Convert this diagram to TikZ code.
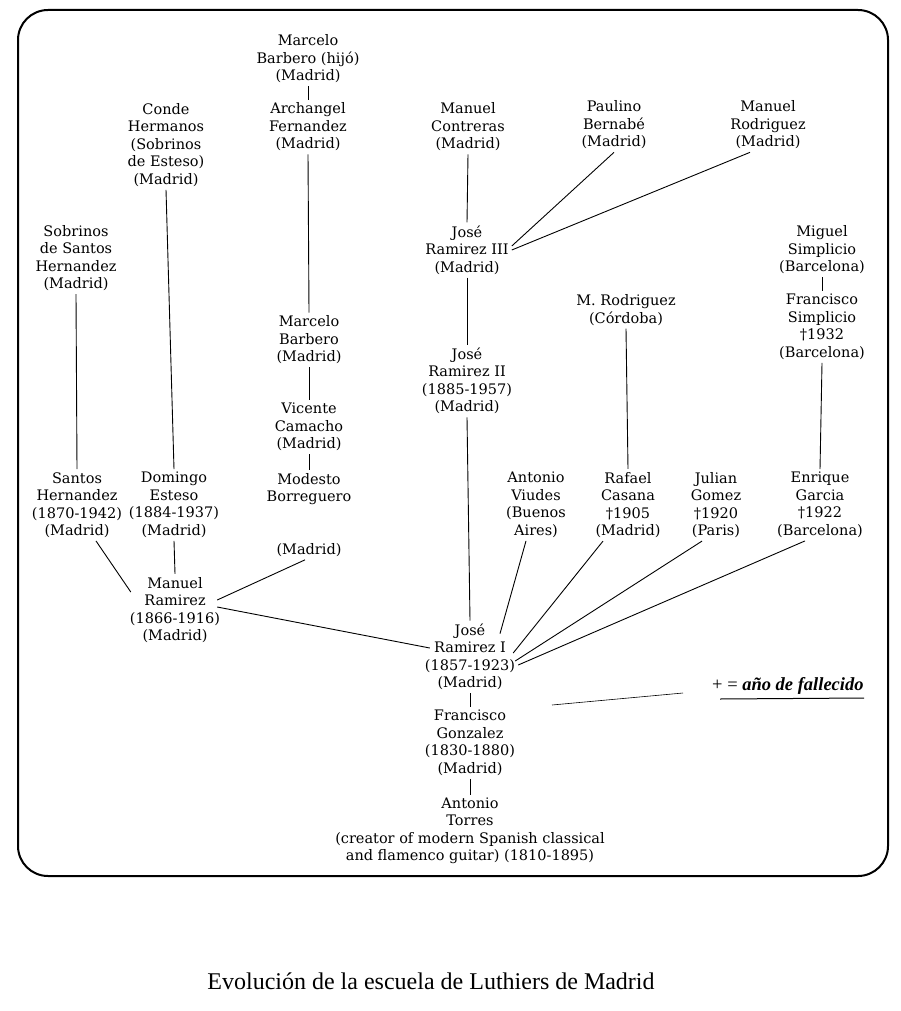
\documentclass[tikz,border=0pt]{standalone}
\usepackage{fontspec}
\setmainfont{DejaVu Serif}
\newfontfamily\capfont{Liberation Serif}
\begin{document}
\begin{tikzpicture}[x=1pt,y=-1pt,
  lbl/.style={align=center,inner sep=3pt,font=\fontsize{14.5}{17.5}\selectfont},
  link/.style={line width=0.9pt},
  frame/.style={line width=2pt,rounded corners=30pt}]
\useasboundingbox (0,0) rectangle (900,1011);
\draw[frame] (18,10) rectangle (888,876);
% nodes
\node[lbl] (bbh) at (308,59) {Marcelo\\Barbero (hijó)\\(Madrid)};
\node[lbl] (arch) at (308,127) {Archangel\\Fernandez\\(Madrid)};
\node[lbl] (conde) at (166,145) {Conde\\Hermanos\\(Sobrinos\\de Esteso)\\(Madrid)};
\node[lbl] (sobsh) at (76,258) {Sobrinos\\de Santos\\Hernandez\\(Madrid)};
\node[lbl] (contr) at (468,127) {Manuel\\Contreras\\(Madrid)};
\node[lbl] (bern) at (614,125) {Paulino\\Bernabé\\(Madrid)};
\node[lbl] (mrod) at (768,125) {Manuel\\Rodriguez\\(Madrid)};
\node[lbl] (jr3) at (467,250) {José\\Ramirez III\\(Madrid)};
\node[lbl] (msimp) at (822,250) {Miguel\\Simplicio\\(Barcelona)};
\node[lbl] (fsimp) at (822,327) {Francisco\\Simplicio\\†1932\\(Barcelona)};
\node[lbl] (mrodc) at (626,310) {M. Rodriguez\\(Córdoba)};
\node[lbl] (jr2) at (467,381) {José\\Ramirez II\\(1885-1957)\\(Madrid)};
\node[lbl] (mbarb) at (309,340) {Marcelo\\Barbero\\(Madrid)};
\node[lbl] (vcam) at (309,427) {Vicente\\Camacho\\(Madrid)};
\node[lbl] (modb) at (309,489) {Modesto\\Borreguero};
\node[lbl] (madr) at (309,550) {(Madrid)};
\node[lbl] (santos) at (77,505) {Santos\\Hernandez\\(1870-1942)\\(Madrid)};
\node[lbl] (doming) at (174,505) {Domingo\\Esteso\\(1884-1937)\\(Madrid)};
\node[lbl] (mram) at (175,610) {Manuel\\Ramirez\\(1866-1916)\\(Madrid)};
\node[lbl] (viudes) at (536,505) {Antonio\\Viudes\\(Buenos\\Aires)};
\node[lbl] (casana) at (628,505) {Rafael\\Casana\\†1905\\(Madrid)};
\node[lbl] (gomez) at (716,505) {Julian\\Gomez\\†1920\\(Paris)};
\node[lbl] (garcia) at (820,505) {Enrique\\Garcia\\†1922\\(Barcelona)};
\node[lbl] (jr1) at (470,657) {José\\Ramirez I\\(1857-1923)\\(Madrid)};
\node[lbl] (fgonz) at (470,743) {Francisco\\Gonzalez\\(1830-1880)\\(Madrid)};
\node[lbl] (torres) at (470,831) {Antonio\\Torres\\(creator of modern Spanish classical\\and flamenco guitar) (1810-1895)};
\node[anchor=west,inner sep=0pt,font=\capfont\fontsize{18.5}{20}\selectfont] (legend) at (712,686) {+ = \textbf{\textit{año de fallecido}}};
\node[inner sep=0pt,font=\capfont\fontsize{24}{26}\selectfont] (caption) at (431,981) {Evolución de la escuela de Luthiers de Madrid};
\coordinate (lgA) at (720,699);
\coordinate (lgB) at (864,698);
\coordinate (lgC) at (552,705);
\coordinate (lgD) at (683,693);
% connectors
\draw[link] (bbh.south) -- (arch.north);
\draw[link] (arch.south) -- (mbarb.north);
\draw[link] (mbarb.south) -- (vcam.north);
\draw[link] (vcam.south) -- (modb.north);
\draw[link] (conde.south) -- (doming.north);
\draw[link] (sobsh.south) -- (santos.north);
\draw[link] ([xshift=19pt]santos.south) -- ([xshift=4pt,yshift=18pt]mram.west);
\draw[link] (doming.south) -- (mram.north);
\draw[link] ([xshift=-6pt,yshift=10pt]mram.east) -- ([xshift=-4pt]madr.south);
\draw[link] ([xshift=-6pt,yshift=3pt]mram.east) -- ([xshift=8pt,yshift=9pt]jr1.west);
\draw[link] (contr.south) -- (jr3.north);
\draw[link] (bern.south) -- ([yshift=4pt]jr3.east);
\draw[link] ([xshift=-18pt]mrod.south) -- (jr3.east);
\draw[link] (jr3.south) -- (jr2.north);
\draw[link] (jr2.south) -- (jr1.north);
\draw[link] (mrodc.south) -- (casana.north);
\draw[link] (msimp.south) -- (fsimp.north);
\draw[link] (fsimp.south) -- (garcia.north);
\draw[link] ([xshift=-10pt]viudes.south) -- ([xshift=30pt,yshift=-13pt]jr1.north);
\draw[link] ([xshift=-25pt]casana.south) -- ([xshift=-5pt,yshift=4pt]jr1.east);
\draw[link] ([xshift=-14pt]gomez.south) -- ([xshift=-3pt,yshift=-4pt]jr1.east);
\draw[link] ([xshift=-15pt]garcia.south) -- ([yshift=-8pt]jr1.east);
\draw[link] (jr1.south) -- (fgonz.north);
\draw[link] (fgonz.south) -- (torres.north);
\draw[line width=1pt] (lgA) -- (lgB);
\draw[line width=0.6pt] (lgC) -- (lgD);
\end{tikzpicture}
\end{document}
